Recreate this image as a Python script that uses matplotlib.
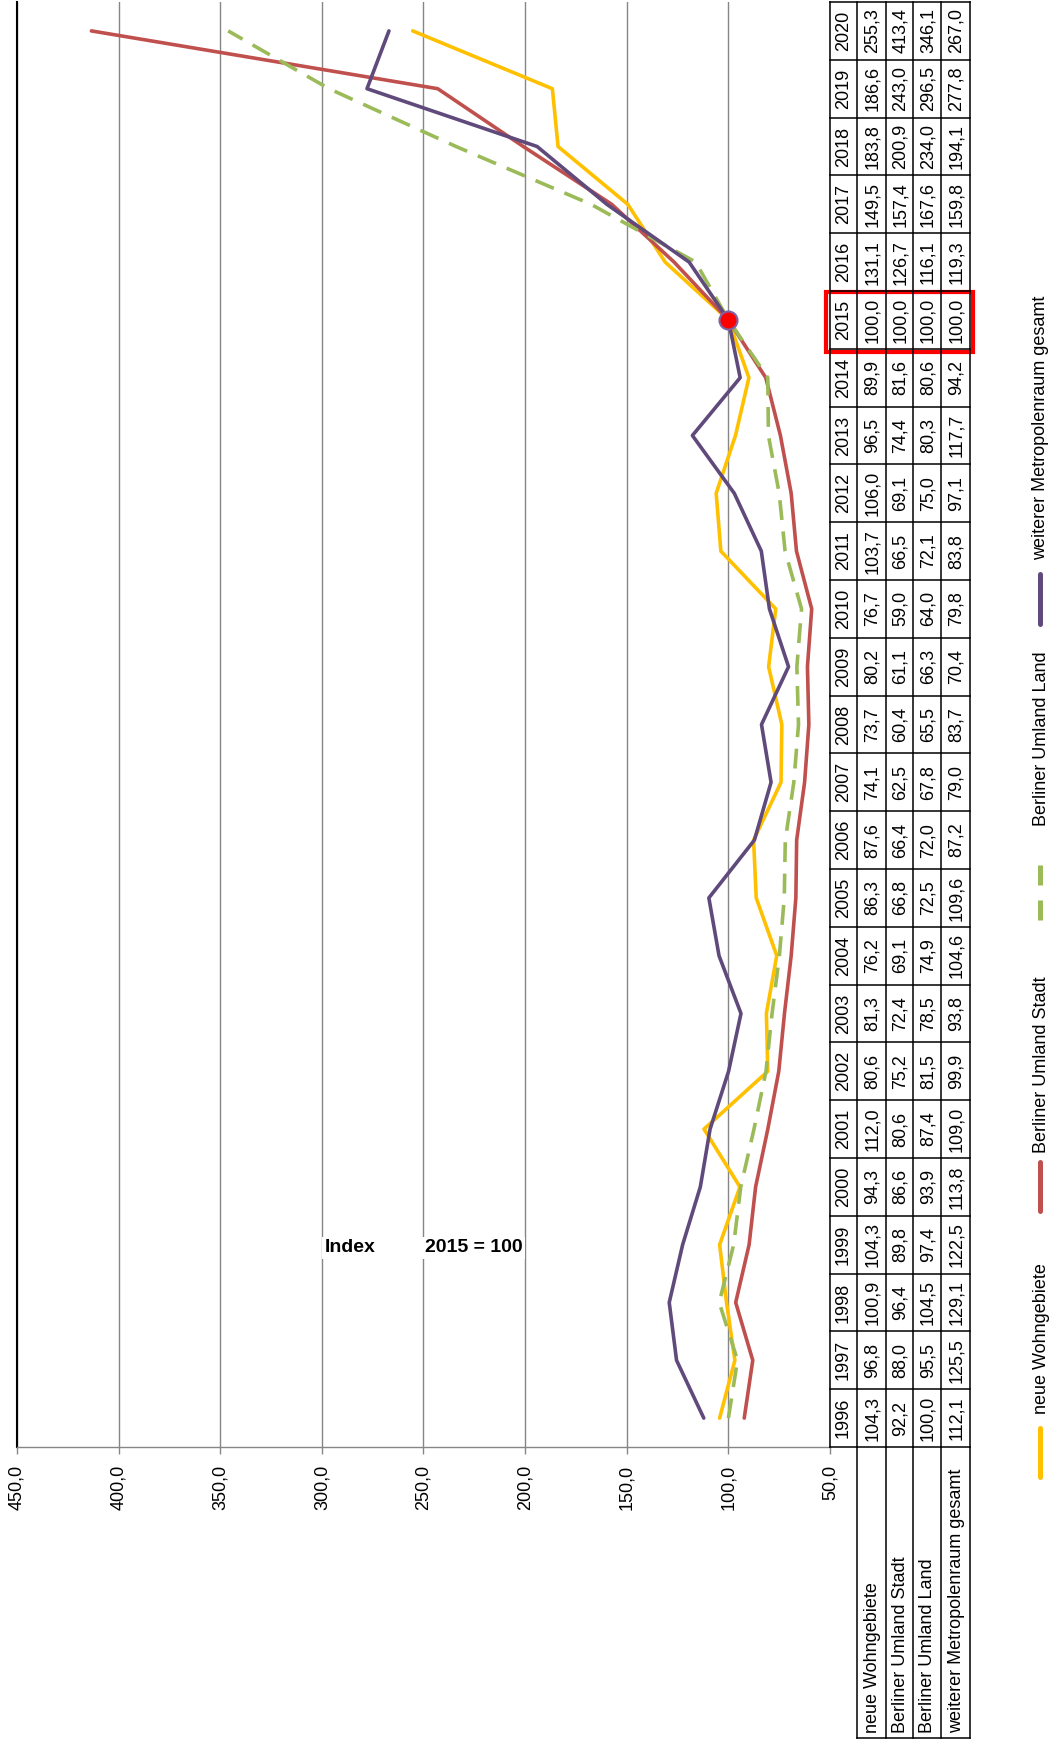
import matplotlib
matplotlib.use('Agg')
import matplotlib.pyplot as plt
from matplotlib.transforms import blended_transform_factory
from matplotlib.patches import Rectangle
from matplotlib.lines import Line2D

plt.rcParams['font.family'] = ['Liberation Sans', 'DejaVu Sans']

years = list(range(1996, 2021))
series_names = ["neue Wohngebiete", "Berliner Umland Stadt", "Berliner Umland Land",
                "weiterer Metropolenraum gesamt"]
neue_wohngebiete = [104.3, 96.8, 100.9, 104.3, 94.3, 112.0, 80.6, 81.3, 76.2, 86.3, 87.6, 74.1,
                    73.7, 80.2, 76.7, 103.7, 106.0, 96.5, 89.9, 100.0, 131.1, 149.5, 183.8, 186.6, 255.3]
umland_stadt = [92.2, 88.0, 96.4, 89.8, 86.6, 80.6, 75.2, 72.4, 69.1, 66.8, 66.4, 62.5,
                60.4, 61.1, 59.0, 66.5, 69.1, 74.4, 81.6, 100.0, 126.7, 157.4, 200.9, 243.0, 413.4]
umland_land = [100.0, 95.5, 104.5, 97.4, 93.9, 87.4, 81.5, 78.5, 74.9, 72.5, 72.0, 67.8,
               65.5, 66.3, 64.0, 72.1, 75.0, 80.3, 80.6, 100.0, 116.1, 167.6, 234.0, 296.5, 346.1]
metropolenraum = [112.1, 125.5, 129.1, 122.5, 113.8, 109.0, 99.9, 93.8, 104.6, 109.6, 87.2, 79.0,
                  83.7, 70.4, 79.8, 83.8, 97.1, 117.7, 94.2, 100.0, 119.3, 159.8, 194.1, 277.8, 267.0]
value_ticks = [50, 100, 150, 200, 250, 300, 350, 400, 450]
base_year = 2015
base_value = 100.0

colors = ['#FFC000', '#C0504D', '#9BBB59', '#604A7B']
all_series = [neue_wohngebiete, umland_stadt, umland_land, metropolenraum]

W, H = 1054, 1739
fig = plt.figure(figsize=(W / 100, H / 100), dpi=100)


def fx(x):
    return x / W


def fy(y):
    return 1 - y / H


def de(v):
    return f"{v:.1f}".replace('.', ',')


FS = 13
TOP, BOT = 2, 1447
LEFT, RIGHT = 17, 830
ax = fig.add_axes([fx(LEFT), fy(BOT), (RIGHT - LEFT) / W, (BOT - TOP) / H])
ax.set_xlim(450, 50)
ax.set_ylim(1995.5, 2020.5)
ax.set_yticks([])
ax.set_xticks(value_ticks)
ax.set_xticklabels([de(v) for v in value_ticks], rotation=90, fontsize=FS)
ax.tick_params(axis='x', direction='out', length=5, width=1, color='#868686', pad=8)
ax.grid(axis='x', color='#868686', lw=1.0)
ax.set_axisbelow(True)
for s in ['top', 'right']:
    ax.spines[s].set_visible(False)
ax.spines['bottom'].set_color('#868686')
ax.spines['bottom'].set_linewidth(1.0)
ax.spines['left'].set_color('black')
ax.spines['left'].set_linewidth(1.5)

for i, (vals, c) in enumerate(zip(all_series, colors)):
    if i == 2:
        ax.plot(vals, years, color=c, lw=2.6, dashes=(5.5, 3.2), zorder=3 + i)
    else:
        ax.plot(vals, years, color=c, lw=2.6, solid_capstyle='round', solid_joinstyle='round', zorder=3 + i)
ax.plot([base_value], [base_year], 'o', ms=13, mfc='#FF0000', mec='#7F63A8', mew=1.5, zorder=10)

# data table
tr = blended_transform_factory(fig.transFigure, ax.transData)
col_x = [830, 857, 886, 913, 941, 970]
lw_t = 1.1
for y in [yr - 0.5 for yr in years] + [years[-1] + 0.5]:
    fig.add_artist(Line2D([fx(col_x[0]), fx(col_x[-1])], [y, y], transform=tr, color='black', lw=lw_t))
for x in col_x:
    fig.add_artist(Line2D([fx(x), fx(x)], [years[0] - 0.5, years[-1] + 0.5], transform=tr,
                          color='black', lw=lw_t))
for x in col_x[1:]:
    fig.add_artist(Line2D([fx(x), fx(x)], [fy(BOT), fy(1738)], color='black', lw=lw_t))
fig.add_artist(Line2D([fx(col_x[1]), fx(col_x[-1])], [fy(1738), fy(1738)], color='black', lw=lw_t))

row_centers = [(col_x[i] + col_x[i + 1]) / 2 for i in range(5)]
for j, yr in enumerate(years):
    fig.text(fx(row_centers[0]), yr, str(yr), transform=tr, rotation=90, ha='center', va='center',
             fontsize=FS)
    for k, vals in enumerate(all_series):
        fig.text(fx(row_centers[k + 1] + 1), yr, de(vals[j]), transform=tr, rotation=90, ha='center',
                 va='center', fontsize=FS)
for k, name in enumerate(series_names):
    fig.text(fx(row_centers[k + 1] + 1), fy(1733), name, rotation=90, ha='center', va='bottom',
             fontsize=FS)

# highlight 2015
fig.add_artist(Rectangle((fx(826), fy(352)), fx(973) - fx(826), fy(292) - fy(352), fill=False,
                         ec='#FF0000', lw=3, transform=fig.transFigure))

# legend
leg = [(1425, 1480, 1414), (1159, 1214, 1153), (865, 920, 826), (571, 627, 560)]
for k, (a, b, tb) in enumerate(leg):
    if k == 2:
        fig.add_artist(Line2D([fx(1040), fx(1040)], [fy(b), fy(a)], color=colors[k], lw=3.6,
                              dashes=(4, 3), dash_capstyle='butt'))
    else:
        fig.add_artist(Line2D([fx(1040), fx(1040)], [fy(a + 3), fy(b - 3)], color=colors[k], lw=3.6,
                              solid_capstyle='round'))
    fig.text(fx(1041), fy(tb), series_names[k], rotation=90, ha='center', va='bottom', fontsize=FS)

# axis title
box = dict(facecolor='white', edgecolor='none', pad=2)
fig.text(fx(325), fy(1248), "Index", fontsize=14, fontweight='bold', ha='left', va='center', bbox=box)
fig.text(fx(425), fy(1248), "2015 = 100", fontsize=14, fontweight='bold', ha='left', va='center', bbox=box)

fig.savefig('out.png', dpi=100, facecolor='white')
